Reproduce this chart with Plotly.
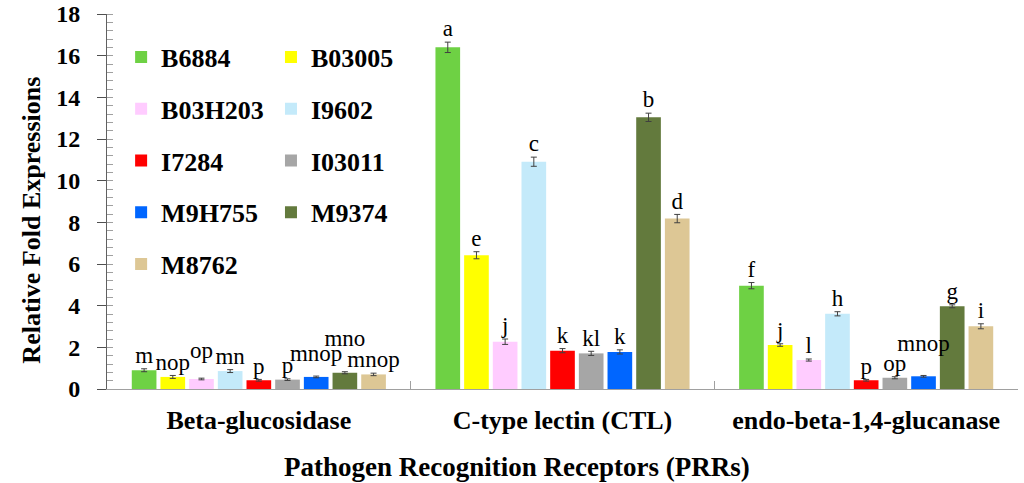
import plotly.graph_objects as go

categories = ["Beta-glucosidase", "C-type lectin (CTL)", "endo-beta-1,4-glucanase"]
strains = ["B6884", "B03005", "B03H203", "I9602", "I7284", "I03011", "M9H755", "M9374", "M8762"]
colors = ["#6ED144", "#FFFF00", "#FFCCFF", "#C4EAFA", "#FF0000", "#A6A6A6", "#0066FF", "#637A3D", "#DDC795"]

values = {
    "B6884":   [0.90, 16.40, 4.96],
    "B03005":  [0.58, 6.42, 2.11],
    "B03H203": [0.48, 2.27, 1.39],
    "I9602":   [0.86, 10.91, 3.61],
    "I7284":   [0.42, 1.84, 0.42],
    "I03011":  [0.45, 1.71, 0.54],
    "M9H755":  [0.58, 1.78, 0.61],
    "M9374":   [0.78, 13.04, 3.97],
    "M8762":   [0.70, 8.18, 3.01],
}
errors = {
    "B6884":   [0.07, 0.25, 0.15],
    "B03005":  [0.07, 0.17, 0.06],
    "B03H203": [0.04, 0.13, 0.05],
    "I9602":   [0.07, 0.22, 0.10],
    "I7284":   [0.04, 0.10, 0.04],
    "I03011":  [0.04, 0.10, 0.05],
    "M9H755":  [0.04, 0.10, 0.04],
    "M9374":   [0.05, 0.20, 0.07],
    "M8762":   [0.06, 0.20, 0.12],
}
letters = {
    "B6884":   ["m", "a", "f"],
    "B03005":  ["nop", "e", "j"],
    "B03H203": ["op", "j", "l"],
    "I9602":   ["mn", "c", "h"],
    "I7284":   ["p", "k", "p"],
    "I03011":  ["p", "kl", "op"],
    "M9H755":  ["mnop", "k", "mnop"],
    "M9374":   ["mno", "b", "g"],
    "M8762":   ["mnop", "d", "i"],
}
# extra vertical lift of some letters (to avoid overlap), in axis units
label_lift = {
    ("B03H203", 0): 0.67,
    ("M9H755", 0): 0.45,
    ("M9374", 0): 0.96,
    ("M9H755", 2): 0.90,
}

SERIF = "Liberation Serif"

fig = go.Figure()
col1 = ["B6884", "B03H203", "I7284", "M9H755", "M8762"]
for s, c in zip(strains, colors):
    fig.add_trace(go.Bar(
        name=s, x=categories, y=values[s],
        marker=dict(color=c, line=dict(width=0)),
        error_y=dict(type="data", array=errors[s], color="#404040", thickness=1, width=3),
        offsetgroup=s, legendgroup=s,
        legend="legend" if s in col1 else "legend2",
    ))
for s in strains:
    ys = [v + e + label_lift.get((s, i), 0.0) for i, (v, e) in enumerate(zip(values[s], errors[s]))]
    fig.add_trace(go.Scatter(
        x=categories, y=ys, mode="text", text=letters[s],
        textposition="top center", textfont=dict(family=SERIF, size=23, color="#000000"),
        offsetgroup=s, showlegend=False, hoverinfo="skip", cliponaxis=False,
    ))

legend_common = dict(
    font=dict(family=SERIF, size=26, color="#000000", weight="bold"),
    bgcolor="rgba(0,0,0,0)", traceorder="grouped", tracegroupgap=15,
    yanchor="top", xanchor="left", itemclick=False, itemdoubleclick=False,
)

fig.update_layout(
    width=1024, height=483,
    margin=dict(l=107, r=6, t=14, b=94, autoexpand=False),
    paper_bgcolor="white", plot_bgcolor="white",
    barmode="group", bargap=0.15, bargroupgap=0.14,
    scattermode="group", scattergap=0.15,
    legend=dict(x=0.0155, y=0.948, **legend_common),
    legend2=dict(x=0.18, y=0.948, **legend_common),
    xaxis=dict(
        type="category", showline=True, linecolor="#A0A0A0", linewidth=1,
        ticks="inside", tickson="boundaries", ticklen=8, tickcolor="#A0A0A0",
        tickfont=dict(family=SERIF, size=26, color="#000000", weight="bold"),
        ticklabelstandoff=8, showgrid=False, zeroline=False, automargin=False,
    ),
    yaxis=dict(
        range=[0, 18], dtick=2, showline=True, linecolor="#606060", linewidth=1,
        ticks="outside", ticklen=9, tickcolor="#505050",
        minor=dict(dtick=0.4, ticks="inside", ticklen=6, tickcolor="#A0A0A0"),
        tickfont=dict(family=SERIF, size=24, color="#000000", weight="bold"),
        ticklabelstandoff=12, showgrid=False, zeroline=False, automargin=False,
    ),
    yaxis2=dict(
        range=[0, 18], dtick=2, overlaying="y", side="left",
        ticks="inside", ticklen=6, tickcolor="#505050",
        showticklabels=False, showline=False, showgrid=False, zeroline=False,
        automargin=False,
    ),
    annotations=[
        dict(text="<b>Relative Fold Expressions</b>", xref="paper", yref="paper",
             x=-0.083, y=0.45, xanchor="center", yanchor="middle", textangle=-90,
             showarrow=False, font=dict(family=SERIF, size=26, color="#000000")),
        dict(text="<b>Pathogen Recognition Receptors (PRRs)</b>", xref="paper", yref="paper",
             x=0.45, y=-0.208, xanchor="center", yanchor="middle",
             showarrow=False, font=dict(family=SERIF, size=27, color="#000000")),
    ],
)

fig.write_html(
    "out.html",
    config={"displayModeBar": False},
    post_script="document.body.style.margin='0';document.body.style.padding='0';",
)
